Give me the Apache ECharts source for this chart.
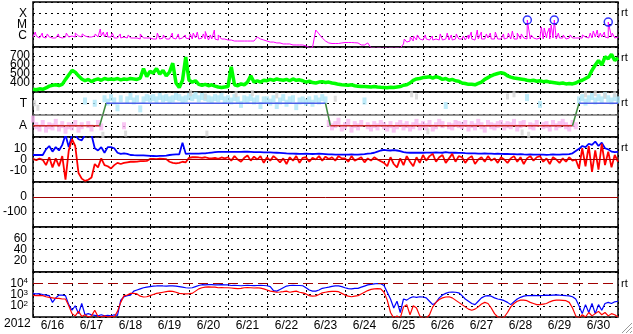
<!DOCTYPE html>
<html><head><meta charset="utf-8">
<script src="https://cdn.jsdelivr.net/npm/echarts/dist/echarts.min.js"></script>
<style>html,body{margin:0;padding:0;background:#fff}#c{width:633px;height:334px}</style>
</head><body><div id="c"></div>
<script>
// ---- data (2-hour samples starting 2012-06-16 00:00 UT) ----
const days = ['6/16','6/17','6/18','6/19','6/20','6/21','6/22','6/23','6/24','6/25','6/26','6/27','6/28','6/29','6/30'];
const yearLabel = '2012';
const stepHours = 2;
// GOES X-ray flux, log10(W/m^2)
const xrayLog = [
-6.11,-6.02,-6.2,-6.11,-6.2,-6.11,-6.2,-6.2,-6.11,-6.2,-6.11,-6.11,
-6.02,-6.11,-6.02,-6.11,-6.02,-6.11,-6.11,-6.02,-6.11,-6.02,-6.11,-6.11,
-6.11,-6.2,-6.2,-6.2,-6.11,-6.2,-6.2,-6.2,-6.2,-6.29,-6.2,-6.2,
-6.2,-6.29,-6.29,-6.29,-6.2,-6.29,-6.29,-6.2,-6.29,-6.29,-6.2,-6.2,
-6.29,-6.29,-6.2,-6.29,-6.2,-6.29,-6.38,-6.29,-6.29,-6.38,-6.29,-6.29,
-6.38,-6.38,-6.47,-6.47,-6.47,-6.47,-6.47,-6.47,-6.47,-6.11,-6.29,-6.38,
-6.47,-6.56,-6.56,-6.64,-6.64,-6.73,-6.73,-6.73,-6.82,-6.82,-6.82,-6.82,
-6.91,-7.04,-7.04,-5.49,-5.84,-6.2,-6.47,-6.64,-6.69,-6.69,-6.69,-6.64,
-6.6,-6.6,-6.6,-6.62,-6.64,-6.82,-6.82,-6.64,-7.09,-7.09,-7.09,-7.09,
-7.09,-7.09,-7.09,-7.09,-7.09,-7.09,-6.73,-6.56,-6.47,-6.47,-6.38,-6.29,
-6.38,-6.29,-6.38,-6.38,-6.29,-6.38,-6.38,-6.29,-6.38,-6.38,-6.29,-6.29,
-6.29,-6.38,-6.29,-6.29,-6.38,-6.29,-6.29,-6.29,-6.2,-6.29,-6.29,-6.29,
-6.29,-6.29,-6.2,-6.29,-6.29,-6.29,-6.29,-6.2,-6.29,-6.29,-6.2,-6.29,
-6.2,-6.29,-6.2,-6.29,-6.2,-6.29,-6.2,-6.2,-6.29,-6.2,-6.2,-6.2,
-6.2,-6.2,-6.11,-6.2,-6.2,-6.11,-6.2,-6.11,-6.11,-6.2,-6.11,-6.2,-6.11];
// short X-ray peaks [hour, log10 flux]
const xrayPeaks = [
[1.4,-5.67],[5.7,-5.76],[8.8,-5.84],[15.6,-5.84],[20.5,-5.76],
[26,-5.76],[30.3,-5.84],[38.3,-5.84],[41.4,-5.4],[43.3,-5.67],[45.7,-5.67],
[48.8,-5.76],[53.7,-5.84],[58.6,-5.93],[66,-5.84],
[76.5,-5.76],[80.2,-5.93],[85.7,-5.76],[89.4,-5.84],[93.7,-5.93],
[96.8,-5.84],[98.6,-5.76],[101.1,-5.67],[104.8,-5.84],[106,-5.62],[109.1,-5.93],[111.6,-5.49],[114,-5.93],
[228.5,-6.29],[232.2,-6.11],[234.1,-6.02],[236.5,-5.93],
[241.4,-5.93],[245.7,-6.02],[250.6,-5.84],[254.9,-5.76],[257.4,-5.93],[260.5,-5.84],
[264.8,-6.02],[267.9,-5.93],[269.7,-5.67],[273.4,-5.49],[275.9,-5.67],[279,-5.84],[281.4,-5.76],[284.5,-5.67],
[289.5,-5.84],[292.5,-5.76],[295,-5.58],[298,-5.76],[300.5,-5.84],[304.2,-4.6],[306.6,-5.93],
[312.8,-5.22],[314.6,-5.31],[316.5,-5.76],[317.7,-5.31],[318.9,-5.04],[320.8,-4.6],[323.3,-5.76],[326.3,-5.93],[330.6,-5.93],
[338,-5.93],[342.9,-5.76],[344.8,-5.58],[347.2,-5.49],[349.1,-5.76],[351.6,-5.67],[354,-4.78],[356.5,-5.76]];
// solar wind speed km/s
const speed = [
330,325,335,330,345,365,375,380,372,385,440,490,
540,520,480,445,425,440,415,435,445,430,450,440,
445,440,450,435,445,440,450,445,440,455,560,470,
530,510,560,500,540,480,520,620,400,350,430,690,
430,410,425,385,375,385,370,380,365,355,350,355,
360,580,380,370,390,380,410,480,410,425,410,430,
425,440,430,445,435,430,440,425,445,430,435,425,
410,420,405,400,410,415,405,410,400,395,385,380,
378,375,380,370,365,360,360,358,355,360,355,352,
350,348,352,350,355,360,375,380,400,430,445,450,
460,465,470,455,470,460,440,450,430,440,425,420,
400,395,385,385,380,395,410,440,460,480,495,505,
515,505,480,465,455,450,445,440,430,425,430,420,
425,415,420,410,405,400,395,400,390,395,390,400,
420,430,450,470,540,600,650,600,690,670,720,650,680];
// IMF sector (1 = Away, 3 = Toward)
const sectorHours = [0,41,45,180,183,332,336,360];
const sectorLevel = [1,1,3,3,1,1,3,3];
// IMF angle samples on the same 0..4 scale
const phi = [
1.6,1.0,0.8,1.2,0.7,1.0,0.9,1.3,0.8,1.1,0.6,1.0,
0.9,1.2,0.7,1.0,3.2,1.1,0.8,3.0,1.2,0.9,3.4,3.1,
3.5,3.2,2.6,3.4,1.0,3.3,3.6,3.2,3.4,2.5,3.3,3.5,
3.4,3.5,3.3,3.6,3.4,3.5,3.3,3.4,3.6,3.5,3.3,3.4,
3.6,3.5,3.7,3.4,3.6,3.5,3.4,3.3,3.5,3.4,3.6,3.3,
3.4,3.2,3.5,3.3,2.9,3.4,3.3,3.5,3.2,3.4,2.8,3.3,
3.3,3.1,3.4,2.8,3.2,3.5,3.0,3.3,3.4,2.7,3.2,3.3,
3.1,3.3,3.0,3.4,3.2,3.5,3.3,1.2,0.9,1.1,1.4,0.8,
1.0,1.3,0.7,1.1,0.9,1.2,3.2,1.0,0.8,1.1,0.9,1.2,
1.0,0.8,1.1,0.7,1.0,1.2,0.9,1.1,0.8,1.0,1.3,0.9,
1.1,0.9,1.2,0.8,1.0,1.3,1.1,2.8,1.0,0.9,1.2,1.1,
1.0,1.2,0.8,1.1,0.9,1.3,1.0,0.7,1.2,1.0,0.9,1.1,
1.2,0.9,1.1,1.0,1.3,0.8,1.1,1.2,3.5,1.0,0.9,1.2,
2.9,1.0,1.1,0.8,1.2,0.9,1.1,1.3,1.0,0.8,1.2,1.0,
3.3,3.5,3.1,3.4,3.6,3.2,3.5,3.3,3.7,3.4,3.2,3.5,3.3];
const phiGray = [[1,3.0],[3,2.6],[43,0.2],[57,0.3],[97,3.9],[106,3.6],[107,0.3],[125,3.8],[135,3.9],[150,3.7],[186,3.4],[233,3.8],[236,3.6],[243,0.5],[292,3.6],[296,3.8],[301,0.4],[305,0.2],[340,3.8],[346,3.9],[352,3.7],[358,3.8]];
// IMF Bt and Bz (nT)
const bt = [
4,4,4,4,9,12,7,11,8,13,22,11,
22,22,18,17,22,22,22,10,8,11,6,11,
11,10,6,5,5.5,5,4,3.8,3.7,3.7,3.6,3.5,
3.2,3.1,3.0,3.2,3.3,3.5,4,4.3,4.5,4.6,15,5,
5.2,5.2,5.3,5.3,5.4,5.5,5.8,6.2,6.5,6.7,6.7,6.8,
6.8,6.8,6.7,6.7,6.8,6.9,7.0,6.8,6.5,6.6,6.5,6.3,
6.3,6.3,6.2,6.0,5.8,5.6,5.4,5.3,5.2,5.1,5.0,5.0,
5.1,5.0,4.9,5.0,5.1,5.0,4.8,4.6,4.5,4.4,4.4,4.3,
4.3,4.4,4.5,4.3,4.4,4.6,4.8,5.2,5.5,6.0,7.0,8.0,
8.5,8.2,8.0,8.3,8.0,7.5,6.5,6.2,6.0,6.1,6.0,6.2,
6.0,6.2,6.1,6.0,6.3,6.2,6.0,6.5,6.2,6.0,6.1,5.9,
5.8,5.6,5.5,5.4,5.5,5.3,5.2,5.4,5.3,5.2,5.0,5.1,
5.0,4.9,5.0,4.8,4.7,4.6,4.7,4.5,4.4,4.5,4.3,4.4,
4.3,4.4,4.2,4.3,4.5,4.4,4.3,4.5,4.6,4.8,5.5,7.5,
9.5,12,11,14,13,16,12,15,10,9,7,6.5,6.7];
const bz = [
0.5,-0.5,0.8,-0.3,-5,2,-7,1,-6,3,-18,8,
18,12,-12,-17,-19,-18,-16,-4,-7,1,-5,-6,
-8,-5,-3,-4,-3,-2.5,-2,-2,-1.8,-1.5,-1.5,-1.2,
0.5,0.6,0.4,0.7,0.5,0.3,-2,-3,-3.5,-3,-2,-2.5,
1.5,2,2.2,1.8,1.5,2,1.2,1,1.5,0.5,1.8,1,
2,-1,3,0,-2,1.5,3.5,-1,2.5,0,3,-3,
2,-1,3,0.5,-2.5,1,-4,2,-1,3,-3,1.5,
2,-2,1.5,0,3,-1,2.5,0.5,2,-1,3,1,
1,-2,3,-1,0.5,2,-2.5,1,-1,2,0,-1.5,
-3,-6,2,-4,-7,1,-5,3,-2,-6,2,-3,
4,-1,3,5,-2,2,4,-3,1,5,-2,3,
2,-3,1,3,-4,0,2,-2,3,-1,1,-3,
2,0,-3,1,3,-2,2,-4,1,3,-1,2,
3,-2,1,-4,2,0,-3,1,-2,2,-1,0,
-8,10,-6,12,-11,8,-9,14,-5,7,-7,4,-2];
// particle flux, log10
const electronLog = [
3.07,3.05,3.07,3.0,2.95,2.9,2.3,2.7,2.95,2.95,2.9,2.1,
1.6,2.0,1.3,2.2,1.2,1.3,1.2,1.15,1.1,1.2,1.1,1.15,
1.1,1.2,1.15,2.5,2.8,2.9,2.95,3.3,3.4,3.5,3.6,3.65,
3.7,3.75,3.76,3.78,3.76,3.75,3.77,3.76,3.74,3.7,3.65,3.6,
3.58,3.6,3.7,3.8,3.87,3.86,3.88,3.87,3.86,3.85,3.88,3.86,
3.85,3.8,3.82,3.8,3.78,3.8,3.82,3.8,3.79,3.8,3.82,3.8,
3.78,3.7,3.35,3.3,3.45,3.6,3.75,3.8,3.82,3.8,3.8,3.78,
3.6,3.4,3.3,3.3,3.4,3.55,3.6,3.65,3.72,3.76,3.76,3.7,
3.6,3.52,3.5,3.55,3.55,3.65,3.75,3.85,3.9,3.95,3.98,3.96,
3.8,3.2,2.6,1.8,2.4,1.4,2.6,2.5,2.7,2.8,2.75,2.8,
2.78,2.7,2.4,2.1,2.3,2.7,2.95,3.1,3.2,3.22,3.2,3.15,
2.9,2.6,2.4,2.2,2.1,2.4,2.7,2.85,2.9,2.85,2.7,2.6,
2.55,2.45,2.3,2.1,2.35,2.6,2.75,2.85,2.9,2.9,2.92,2.9,
2.9,2.92,2.95,2.93,2.95,2.96,2.94,2.93,2.9,2.88,2.8,2.6,
2.0,1.3,2.1,1.4,2.2,1.3,2.1,1.6,2.2,2.3,2.2,2.35,2.4];
const protonLog = [
2.93,2.9,2.93,2.9,2.8,2.75,2.7,2.65,2.65,2.6,2.6,2.0,
1.3,1.1,1.5,1.05,1.2,1.0,1.1,1.6,1.05,1.0,1.1,1.0,
1.05,1.0,1.5,2.3,2.9,2.95,3.1,3.1,3.05,2.85,2.78,2.8,
2.9,3.0,3.1,3.15,3.2,3.25,3.3,3.28,3.2,3.1,3.07,3.05,
3.07,3.1,3.3,3.5,3.6,3.65,3.67,3.66,3.65,3.6,3.62,3.6,
3.6,3.58,3.55,3.52,3.55,3.6,3.62,3.6,3.58,3.6,3.57,3.5,
3.4,3.3,3.25,3.2,3.22,3.25,3.3,3.2,3.25,3.3,3.2,3.15,
3.05,2.9,2.85,2.88,3.0,3.15,3.2,3.25,3.28,3.28,3.25,3.1,
2.95,2.85,2.8,2.85,2.9,3.05,3.2,3.35,3.45,3.5,3.52,3.5,
3.2,2.5,1.4,0.9,1.1,0.9,1.9,2.1,1.2,2.0,1.8,1.1,
0.9,0.9,1.2,1.9,2.3,2.55,2.7,2.78,2.8,2.7,2.5,2.3,
2.1,1.9,1.7,1.6,1.7,1.9,2.15,2.3,2.2,1.8,1.3,1.0,
0.9,1.0,1.4,1.9,2.2,2.4,2.5,2.5,2.45,2.3,2.2,2.1,
2.1,2.15,2.2,2.35,2.45,2.5,2.5,2.48,2.45,2.3,1.8,1.1,
0.9,1.2,1.0,1.4,1.1,1.3,1.5,1.2,1.4,1.1,1.3,1.2,1.0];

// ---- build ----
const pairs = arr => arr.map((v, i) => [i * stepHours, v]);
const xrayData = pairs(xrayLog).concat(xrayPeaks).sort((a, b) => a[0] - b[0]);
const flareMarks = xrayPeaks.filter(p => p[1] >= -5);

const FONT = 'Liberation Sans, Arial, sans-serif';
const tops = [2, 47, 92, 137, 182, 227, 272];
const PH = 45;
const dotted = {color: '#000', type: [2, 4], width: 1};

const grids = tops.map(t => ({left: 33, width: 585, top: t, height: PH, show: true,
  borderColor: '#000', borderWidth: 1.5, backgroundColor: '#fff'}));
const xAxes = tops.map((t, i) => ({type: 'value', gridIndex: i, min: 0, max: 360, interval: 24,
  axisLine: {show: false}, axisTick: {show: false}, axisLabel: {show: false},
  splitLine: {show: true, lineStyle: dotted}}));
xAxes.push({type: 'category', gridIndex: 6, data: days, boundaryGap: true, position: 'bottom',
  axisLine: {show: false}, axisTick: {show: false}, splitLine: {show: false},
  axisLabel: {color: '#000', fontSize: 12, fontFamily: FONT, margin: 3}});

function yax(i, min, max, interval, fmt, margin) {
  return {type: 'value', gridIndex: i, min, max, interval,
    axisLine: {show: false}, axisTick: {show: false},
    axisLabel: {color: '#000', fontSize: 12, fontFamily: FONT, margin: margin, formatter: fmt, showMinLabel: true, showMaxLabel: true},
    splitLine: {show: true, lineStyle: dotted}};
}
const xrayClass = {'-6': 'C', '-5': 'M', '-4': 'X'};
const sectorName = {'1': 'A', '3': 'T'};
const yAxes = [
  yax(0, -7, -3, 1, v => xrayClass[String(v)] || '', 6),
  yax(1, 300, 800, 100, v => (v >= 400 && v <= 700) ? String(v) : '', 3),
  yax(2, 0, 4, 1, v => sectorName[String(v)] || '', 6),
  yax(3, -20, 20, 10, v => Math.abs(v) < 20 ? String(v) : '', 6),
  yax(4, -200, 100, 100, v => (v === 0 || v === -100) ? String(v) : '', 6),
  yax(5, 0, 80, 20, v => (v > 0 && v < 80) ? String(v) : '', 6),
  yax(6, 1, 5, 1, v => (v >= 2 && v <= 4) ? '10{s|' + v + '}' : '', 5)
];
yAxes[6].axisLabel.rich = {s: {fontSize: 8, verticalAlign: 'top', lineHeight: 8, padding: [0, 0, 6, 0]}};
yAxes[6].splitLine.lineStyle = {color: ['#000', '#000', '#000', 'rgba(0,0,0,0)', '#000'], type: [2, 4], width: 1};

const refLine = (y, color, type, width) => ({silent: true, symbol: 'none', label: {show: false},
  lineStyle: {color, type, width}, emphasis: {disabled: true}, data: [{yAxis: y}]});

const series = [];
series.push({type: 'line', xAxisIndex: 0, yAxisIndex: 0, data: xrayData, showSymbol: false,
  lineStyle: {color: '#ff00ff', width: 1}, z: 3});
series.push({type: 'scatter', xAxisIndex: 0, yAxisIndex: 0, data: flareMarks, symbol: 'circle', symbolSize: 8,
  itemStyle: {color: 'rgba(0,0,0,0)', borderColor: '#0000ff', borderWidth: 1.5}, z: 4});
series.push({type: 'line', xAxisIndex: 1, yAxisIndex: 1, data: pairs(speed), showSymbol: false,
  lineStyle: {color: '#00ff00', width: 3.5}, z: 3});
series.push({type: 'scatter', xAxisIndex: 2, yAxisIndex: 2, data: pairs(phi), symbol: 'rect', symbolSize: [4, 7],
  itemStyle: {color: p => p.value[1] > 2 ? '#aee6f8' : '#f8b8f0'}, z: 2,
  markLine: refLine(2, '#707070', 'solid', 1.5)});
series.push({type: 'scatter', xAxisIndex: 2, yAxisIndex: 2, data: phiGray, symbol: 'rect', symbolSize: [3, 6],
  itemStyle: {color: '#d4d4d4'}, z: 2});
for (let k = 0; k < sectorHours.length - 1; k++) {
  const a = sectorLevel[k], b = sectorLevel[k + 1];
  const col = a !== b ? '#3c8a3c' : (a === 3 ? '#4a5ee8' : '#cc2a2a');
  series.push({type: 'line', xAxisIndex: 2, yAxisIndex: 2, showSymbol: false,
    data: [[sectorHours[k], a], [sectorHours[k + 1], b]], lineStyle: {color: col, width: 1.5}, z: 4});
}
series.push({type: 'line', xAxisIndex: 3, yAxisIndex: 3, data: pairs(bt), showSymbol: false,
  lineStyle: {color: '#0000ff', width: 1.8}, z: 3});
series.push({type: 'line', xAxisIndex: 3, yAxisIndex: 3, data: pairs(bz), showSymbol: false,
  lineStyle: {color: '#ff0000', width: 1.8}, z: 4, markLine: refLine(0, '#a00000', 'solid', 1)});
series.push({type: 'line', xAxisIndex: 4, yAxisIndex: 4, data: [], showSymbol: false,
  markLine: refLine(0, '#a00000', 'solid', 1)});
series.push({type: 'line', xAxisIndex: 6, yAxisIndex: 6, data: pairs(electronLog), showSymbol: false,
  lineStyle: {color: '#0000ff', width: 1.2}, z: 3});
series.push({type: 'line', xAxisIndex: 6, yAxisIndex: 6, data: pairs(protonLog), showSymbol: false,
  lineStyle: {color: '#ff0000', width: 1.2}, z: 4, markLine: refLine(4, '#a00000', [10, 5], 1)});

const rtTops = [7, 52, 97, 142, 278];
const graphic = rtTops.map(t => ({type: 'text', left: 621, top: t,
  style: {text: 'rt', font: '11px ' + FONT, fill: '#000'}}));
graphic.push({type: 'text', left: 4, top: 318, style: {text: yearLabel, font: '12px ' + FONT, fill: '#000'}});
[[622, 333, 632, 323], [626, 333, 632, 327], [630, 333, 632, 331]].forEach(s => graphic.push({type: 'line',
  shape: {x1: s[0], y1: s[1], x2: s[2], y2: s[3]}, style: {stroke: '#999', lineWidth: 1}}));

const chart = echarts.init(document.getElementById('c'), null, {renderer: 'canvas'});
chart.setOption({animation: false, backgroundColor: '#fff', grid: grids, xAxis: xAxes, yAxis: yAxes,
  series: series, graphic: graphic});
</script></body></html>
